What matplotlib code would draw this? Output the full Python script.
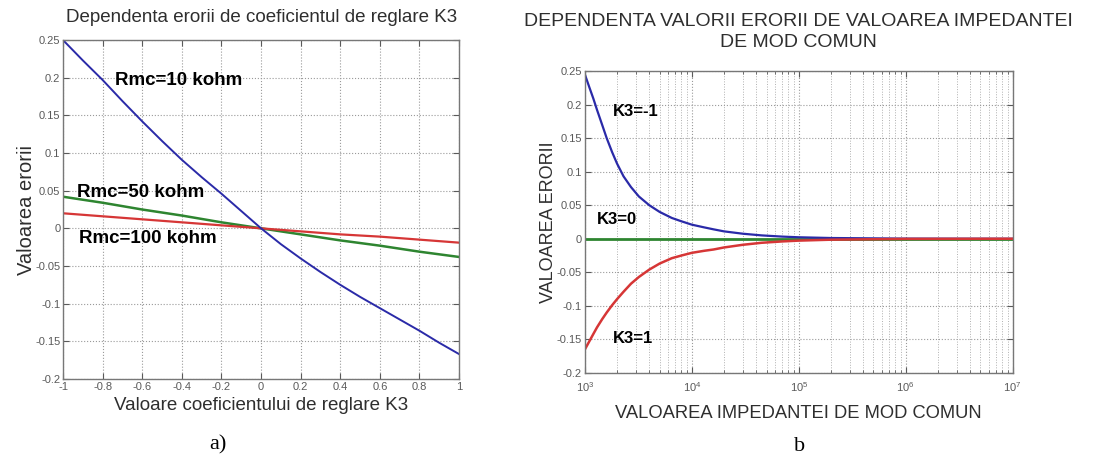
import numpy as np
import matplotlib
matplotlib.use('Agg')
import matplotlib.pyplot as plt
from matplotlib.ticker import FixedLocator, LogLocator, NullFormatter

plt.rcParams['font.family'] = ['Liberation Sans', 'DejaVu Sans']

# %% left panel: error vs K3
k3 = [-1, -0.9, -0.8, -0.7, -0.6, -0.5, -0.4, -0.3, -0.2, -0.1, 0,
      0.1, 0.2, 0.3, 0.4, 0.5, 0.6, 0.7, 0.8, 0.9, 1]
err_10k = [0.25, 0.223, 0.197, 0.169, 0.142, 0.116, 0.091, 0.068, 0.046, 0.023, 0,
           -0.021, -0.04, -0.058, -0.075, -0.091, -0.106, -0.121, -0.136, -0.152, -0.167]
k3_coarse = [-1, -0.8, -0.6, -0.4, -0.2, 0, 0.2, 0.4, 0.6, 0.8, 1]
err_50k = [0.042, 0.034, 0.025, 0.017, 0.008, 0, -0.008, -0.016, -0.023, -0.031, -0.038]
err_100k = [0.02, 0.016, 0.012, 0.008, 0.004, 0, -0.004, -0.008, -0.011, -0.015, -0.019]

# %% right panel: error vs common-mode impedance
zmc = [1e3, 1.1e3, 1.2e3, 1.3e3, 1.45e3, 1.6e3, 1.8e3, 2e3, 2.3e3, 2.7e3, 3.2e3, 4e3, 5e3,
       6.5e3, 8e3, 1e4, 1.3e4, 1.6e4, 2e4, 3e4, 4.5e4, 7e4, 1e5, 2e5, 1e6, 1e7]
err_km1 = [0.245, 0.226, 0.209, 0.192, 0.170, 0.150, 0.129, 0.112, 0.093, 0.077, 0.063, 0.05, 0.04,
           0.031, 0.026, 0.021, 0.017, 0.014, 0.011, 0.0075, 0.005, 0.0032, 0.0022, 0.0011, 0.0002, 0]
err_k0 = [0] * len(zmc)
err_kp1 = [-0.165, -0.153, -0.142, -0.132, -0.12, -0.11, -0.099, -0.09, -0.079, -0.067, -0.057, -0.046, -0.037,
           -0.029, -0.025, -0.021, -0.018, -0.016, -0.013, -0.009, -0.006, -0.004, -0.0028, -0.0014, -0.0002, 0]

yticks = [0.25, 0.2, 0.15, 0.1, 0.05, 0, -0.05, -0.1, -0.15, -0.2]
ytick_labels = ['0.25', '0.2', '0.15', '0.1', '0.05', '0', '-0.05', '-0.1', '-0.15', '-0.2']
xtick_labels_left = ['-1', '-0.8', '-0.6', '-0.4', '-0.2', '0', '0.2', '0.4', '0.6', '0.8', '1']

BLUE = '#2a2aa8'
GREEN = '#2e8530'
RED = '#d63636'
TICKC = '#5a5a5a'
TEXTC = '#2e2e2e'
grid_kw = dict(color='#9a9a9a', linestyle=':', linewidth=0.8)


def matlab_style(ax):
    for s in ax.spines.values():
        s.set_color('#777777')
        s.set_linewidth(1.0)
    ax.tick_params(direction='in', colors=TICKC, labelsize=8, length=4,
                   top=True, right=True, pad=2)
    ax.tick_params(which='minor', direction='in', length=2.5, top=True,
                   right=True, colors=TICKC)


fig = plt.figure(figsize=(11.14, 4.61), dpi=100)

ax1 = fig.add_axes([0.0566, 0.178, 0.3555, 0.735])
ax1.plot(k3_coarse, err_50k, color=GREEN, lw=1.8)
ax1.plot(k3_coarse, err_100k, color=RED, lw=1.6)
ax1.plot(k3, err_10k, color=BLUE, lw=1.4)
ax1.set_xlim(-1, 1)
ax1.set_ylim(-0.2, 0.25)
ax1.xaxis.set_major_locator(FixedLocator(k3_coarse))
ax1.set_xticklabels(xtick_labels_left)
ax1.yaxis.set_major_locator(FixedLocator(yticks))
ax1.set_yticklabels(ytick_labels)
ax1.grid(True, **grid_kw)
matlab_style(ax1)
ax1.set_title('Dependenta erorii de coeficientul de reglare K3', fontsize=13.5,
              color=TEXTC, pad=13)
ax1.set_xlabel('Valoare coeficientului de reglare K3', fontsize=13.5, color=TEXTC, labelpad=4)
ax1.set_ylabel('Valoarea erorii', fontsize=14.5, color=TEXTC, labelpad=-1)
ax1.text(-0.74, 0.197, 'Rmc=10 kohm', fontsize=13.5, fontweight='bold', va='center')
ax1.text(-0.93, 0.048, 'Rmc=50 kohm', fontsize=13.5, fontweight='bold', va='center')
ax1.text(-0.92, -0.013, 'Rmc=100 kohm', fontsize=13.5, fontweight='bold', va='center')

ax2 = fig.add_axes([0.525, 0.191, 0.384, 0.655])
ax2.set_xscale('log')
ax2.plot(zmc, err_k0, color=GREEN, lw=2.0)
ax2.plot(zmc, err_km1, color=BLUE, lw=1.6)
ax2.plot(zmc, err_kp1, color=RED, lw=1.8)
ax2.set_xlim(1e3, 1e7)
ax2.set_ylim(-0.2, 0.25)
ax2.xaxis.set_major_locator(LogLocator(base=10))
ax2.xaxis.set_minor_locator(LogLocator(base=10, subs=np.arange(2, 10)))
ax2.xaxis.set_minor_formatter(NullFormatter())
ax2.yaxis.set_major_locator(FixedLocator(yticks))
ax2.set_yticklabels(ytick_labels)
ax2.grid(True, which='major', **grid_kw)
ax2.grid(True, which='minor', color='#b0b0b0', linestyle=':', linewidth=0.7)
matlab_style(ax2)
ax2.tick_params(axis='x', pad=5)
ax2.set_title('DEPENDENTA VALORII ERORII DE VALOAREA IMPEDANTEI\nDE MOD COMUN',
              fontsize=14, color=TEXTC, pad=17, linespacing=1.35)
ax2.set_xlabel('VALOAREA IMPEDANTEI DE MOD COMUN', fontsize=13.2, color=TEXTC, labelpad=8)
ax2.set_ylabel('VALOAREA ERORII', fontsize=13, color=TEXTC, labelpad=0)
ax2.text(10 ** 3.26, 0.19, 'K3=-1', fontsize=12, fontweight='bold', va='center')
ax2.text(10 ** 3.11, 0.028, 'K3=0', fontsize=12, fontweight='bold', va='center')
ax2.text(10 ** 3.26, -0.148, 'K3=1', fontsize=12, fontweight='bold', va='center')

fig.text(218 / 1114, 1 - 445 / 461, 'a)', fontsize=16, family='Liberation Serif',
         ha='center', va='center')
fig.text(800 / 1114, 1 - 446 / 461, 'b', fontsize=16, family='Liberation Serif',
         ha='center', va='center')

fig.savefig('out.png', dpi=100, facecolor='white')
